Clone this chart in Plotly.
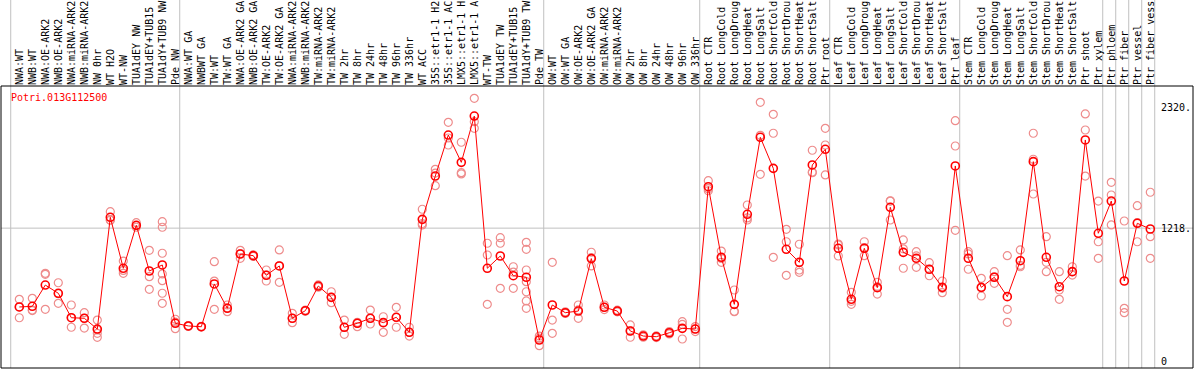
import plotly.graph_objects as go

gene_name = "Potri.013G112500"

labels = [
    "NWA:WT", "NWB:WT", "NWA:OE-ARK2", "NWB:OE-ARK2", "NWA:miRNA-ARK2", "NWB:miRNA-ARK2",
    "NW 0hr", "WT H2O", "WT-NW", "TUA1dEY NW", "TUA1dEY+TUB15", "TUA1dY+TUB9 NW", "Pde NW",
    "NWA:WT GA", "NWBWT GA", "TW:WT", "TW:WT GA", "NWA:OE-ARK2 GA", "NWB:OE-ARK2 GA",
    "TW:OE-ARK2", "TW:OE-ARK2 GA", "NWA:miRNA-ARK2", "NWB:miRNA-ARK2", "TW:miRNA-ARK2",
    "TW:miRNA-ARK2", "TW 2hr", "TW 8hr", "TW 24hr", "TW 48hr", "TW 96hr", "TW 336hr",
    "WT ACC", "35S::etr1-1 H2", "35S::etr1-1 AC", "LMX5::etr1-1 H", "LMX5::etr1-1 A",
    "WT-TW", "TUA1dEY TW", "TUA1dEY+TUB15", "TUA1dY+TUB9 TW", "Pde TW",
    "OW:WT", "OW:WT GA", "OW:OE-ARK2", "OW:OE-ARK2 GA", "OW:miRNA-ARK2", "OW:miRNA-ARK2",
    "OW 2hr", "OW 8hr", "OW 24hr", "OW 48hr", "OW 96hr", "OW 336hr",
    "Root CTR", "Root LongCold", "Root LongDroug", "Root LongHeat", "Root LongSalt",
    "Root ShortCold", "Root ShortDrou", "Root ShortHeat", "Root ShortSalt", "Ptr root",
    "Leaf CTR", "Leaf LongCold", "Leaf LongDroug", "Leaf LongHeat", "Leaf LongSalt",
    "Leaf ShortCold", "Leaf ShortDrou", "Leaf ShortHeat", "Leaf ShortSalt", "Ptr leaf",
    "Stem CTR", "Stem LongCold", "Stem LongDroug", "Stem LongHeat", "Stem LongSalt",
    "Stem ShortCold", "Stem ShortDrou", "Stem ShortHeat", "Stem ShortSalt", "Ptr shoot",
    "Ptr xylem", "Ptr phloem", "Ptr fiber", "Ptr vessel", "Ptr fiber vess",
]

group_starts = [0, 13, 41, 53, 63, 73, 84, 85, 86, 87, 88]

means = [
    499, 505, 699, 624, 401, 396, 298, 1317, 852, 1244, 827, 882, 350,
    326, 319, 709, 487, 982, 967, 788, 873, 396, 465, 690, 587, 314, 350, 396, 356,
    405, 268, 1298, 1693, 2067, 1818, 2240, 852, 964, 784, 770, 198,
    517, 447, 462, 940, 496, 462, 280, 234, 228, 264, 304, 298,
    1596, 952, 523, 1344, 2046, 1763, 1025, 906, 1794, 1937,
    1034, 569, 1034, 675, 1408, 997, 943, 843, 678, 1785,
    943, 678, 770, 593, 921, 1824, 952, 684, 821, 2022, 1171,
    1465, 736, 1262, 1210,
]

replicates = [
    [569, 499, 401], [578, 471, 466], [806, 797, 478], [720, 620, 532], [517, 401, 314],
    [447, 396, 307], [380, 289, 259, 222], [1368, 1292, 1290], [918, 832, 806],
    [1268, 1240, 1226], [1016, 775, 660], [1277, 1226, 989, 800, 739, 624, 532],
    [387, 360, 301],
    [330, 325, 322], [322, 319, 316], [912, 735, 478], [517, 490, 456], [1016, 985, 943],
    [975, 967, 960], [836, 790, 736], [1019, 875, 724], [441, 396, 356], [470, 465, 460],
    [700, 690, 680], [638, 587, 538], [380, 314, 250], [359, 350, 319], [471, 396, 344],
    [410, 356, 268], [496, 405, 314], [314, 268, 234], [1390, 1260, 1247],
    [1754, 1720, 1605], [2183, 2040, 1976], [2001, 1724, 1712], [2402, 2189, 2128],
    [1080, 973, 523], [1131, 1080, 669], [866, 817, 669],
    [1089, 1025, 836, 730, 638, 554, 487], [234, 215, 146],
    [906, 380, 259], [455, 447, 440], [517, 472, 396], [998, 949, 873], [517, 496, 475],
    [470, 462, 455], [335, 282, 223], [245, 234, 223], [235, 228, 220], [275, 264, 253],
    [365, 340, 207], [320, 298, 275],
    [1651, 1578, 1559], [1009, 941, 906], [654, 459, 456], [1429, 1311, 1292],
    [2365, 2064, 1709], [2256, 2083, 952], [1207, 1094, 788], [1071, 836, 815],
    [1928, 1730, 1724], [2128, 1976, 1703],
    [1073, 1065, 964], [633, 551, 523], [1094, 1041, 967], [724, 684, 617],
    [1465, 1467, 1292], [1110, 1029, 852], [1003, 965, 861], [903, 843, 784],
    [736, 669, 629], [2198, 1967, 1198],
    [1003, 983, 843], [760, 675, 599], [821, 774, 715], [967, 478, 359], [1019, 878, 866],
    [2083, 1846, 1529], [1140, 906, 821], [821, 654, 569], [866, 821, 790],
    [2259, 2113, 1693], [1465, 1094, 943],
    [1636, 1520, 1247], [1283, 487, 447], [1423, 1269, 1094], [1545, 1140, 943],
]

y_tick_values = [0, 1218, 2320]
y_tick_text = ["0", "1218.", "2320."]
reference_line = 1218

FONT = "DejaVu Sans Mono"
GRID = "rgb(192,192,192)"

x_idx = list(range(len(labels)))
rep_x = [i for i, reps in enumerate(replicates) for _ in reps]
rep_y = [v for reps in replicates for v in reps]

fig = go.Figure()
fig.add_trace(go.Scatter(
    x=rep_x, y=rep_y, mode="markers",
    marker=dict(symbol="circle-open", size=8, color="rgb(238,140,140)", line=dict(width=1.2)),
    hoverinfo="skip", showlegend=False,
))
fig.add_trace(go.Scatter(
    x=x_idx, y=means, mode="lines+markers",
    line=dict(color="red", width=1),
    marker=dict(symbol="circle-open", size=8, color="red", line=dict(width=1.6)),
    showlegend=False,
))

shapes = []
for k in group_starts:
    shapes.append(dict(type="line", xref="x", yref="paper", x0=k - 0.66, x1=k - 0.66,
                       y0=0, y1=1.31, line=dict(color=GRID, width=1), layer="below"))
shapes.append(dict(type="line", xref="paper", yref="y", x0=0, x1=1,
                   y0=reference_line, y1=reference_line, line=dict(color=GRID, width=1),
                   layer="below"))
shapes.append(dict(type="rect", xref="paper", yref="paper", x0=0, x1=1, y0=0, y1=1,
                   line=dict(color="black", width=1)))

fig.update_layout(
    width=1194, height=370,
    margin=dict(l=1, r=1, t=86, b=2),
    paper_bgcolor="white", plot_bgcolor="white",
    shapes=shapes,
    xaxis=dict(
        range=[-1.408, 90.285], side="top", tickmode="array", tickvals=x_idx,
        ticktext=labels, tickangle=-90, showgrid=False, zeroline=False,
        showline=False, ticks="", automargin=False,
        tickfont=dict(family=FONT, size=10, color="black"),
    ),
    yaxis=dict(
        range=[-57.4, 2514], side="right", anchor="free", position=0.9723,
        tickmode="array", tickvals=y_tick_values, ticktext=y_tick_text,
        showgrid=False, zeroline=False, showline=False, ticks="", automargin=False,
        tickfont=dict(family=FONT, size=10, color="black"),
    ),
    annotations=[dict(
        text=gene_name, xref="paper", yref="paper", x=0.007, y=0.985,
        xanchor="left", yanchor="top", showarrow=False,
        font=dict(family=FONT, size=10, color="red"),
    )],
)

fig.write_html(
    "out.html",
    config={"displayModeBar": False},
    post_script="document.body.style.margin='0';document.body.style.padding='0';"
                "document.body.style.overflow='hidden';",
)
